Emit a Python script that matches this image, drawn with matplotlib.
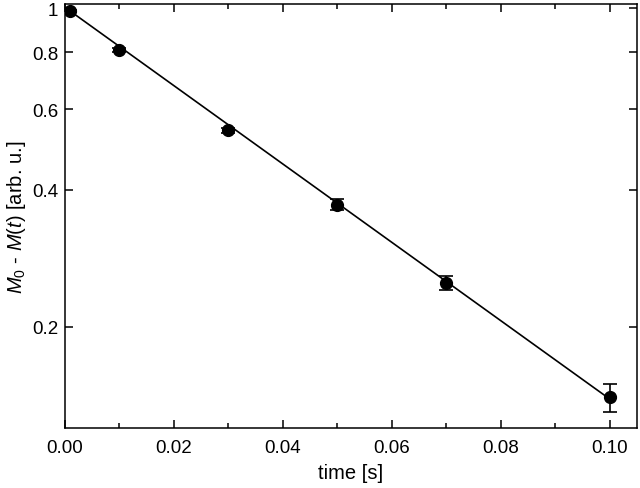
import matplotlib.pyplot as plt
from matplotlib.ticker import FixedLocator, FixedFormatter, MultipleLocator, NullLocator

plt.rcParams['font.family'] = ['Liberation Sans', 'DejaVu Sans']
plt.rcParams['mathtext.fontset'] = 'custom'
plt.rcParams['mathtext.it'] = 'Liberation Sans:italic'
plt.rcParams['mathtext.rm'] = 'Liberation Sans'

# datos medidos
tiempo = [0.001, 0.010, 0.030, 0.050, 0.070, 0.100]
senal = [0.986, 0.810, 0.540, 0.371, 0.250, 0.140]
error = [0.006, 0.008, 0.007, 0.010, 0.009, 0.010]

# recta de ajuste (exponencial, recta en escala log)
ajuste_t = [0.001, 0.100]
ajuste_m = [0.985, 0.139]

yticks = [0.2, 0.4, 0.6, 0.8, 1.0]
yticklabels = ['0.2', '0.4', '0.6', '0.8', '1']

fig = plt.figure(figsize=(6.4, 4.89), dpi=100)
ax = fig.add_axes([0.1016, 0.1227, 0.8934, 0.8671])

ax.plot(ajuste_t, ajuste_m, color='black', linewidth=1.2)
ax.errorbar(tiempo, senal, yerr=error, fmt='o', color='black',
            markersize=8.5, capsize=4.7, elinewidth=1.2, capthick=1.2)

ax.set_yscale('log')
ax.set_xlim(0, 0.105)
ax.set_ylim(0.12, 1.022)

ax.yaxis.set_major_locator(FixedLocator(yticks))
ax.yaxis.set_major_formatter(FixedFormatter(yticklabels))
ax.yaxis.set_minor_locator(NullLocator())
ax.xaxis.set_major_locator(MultipleLocator(0.02))
ax.xaxis.set_minor_locator(MultipleLocator(0.01))
ax.xaxis.set_major_formatter(plt.FormatStrFormatter('%.2f'))

ax.tick_params(which='both', direction='in', top=True, right=True,
               labelsize=13.5, width=1.1)
ax.tick_params(which='major', length=6)
ax.tick_params(which='minor', length=3.5)
ax.tick_params(axis='x', pad=8)
ax.tick_params(axis='y', pad=5)
for s in ax.spines.values():
    s.set_linewidth(1.1)

ax.set_xlabel('time [s]', fontsize=14.5, labelpad=5)
ax.set_ylabel(r'$M_0$ - $M(t)$ [arb. u.]', fontsize=14.5, labelpad=3)

fig.savefig('out.png')
